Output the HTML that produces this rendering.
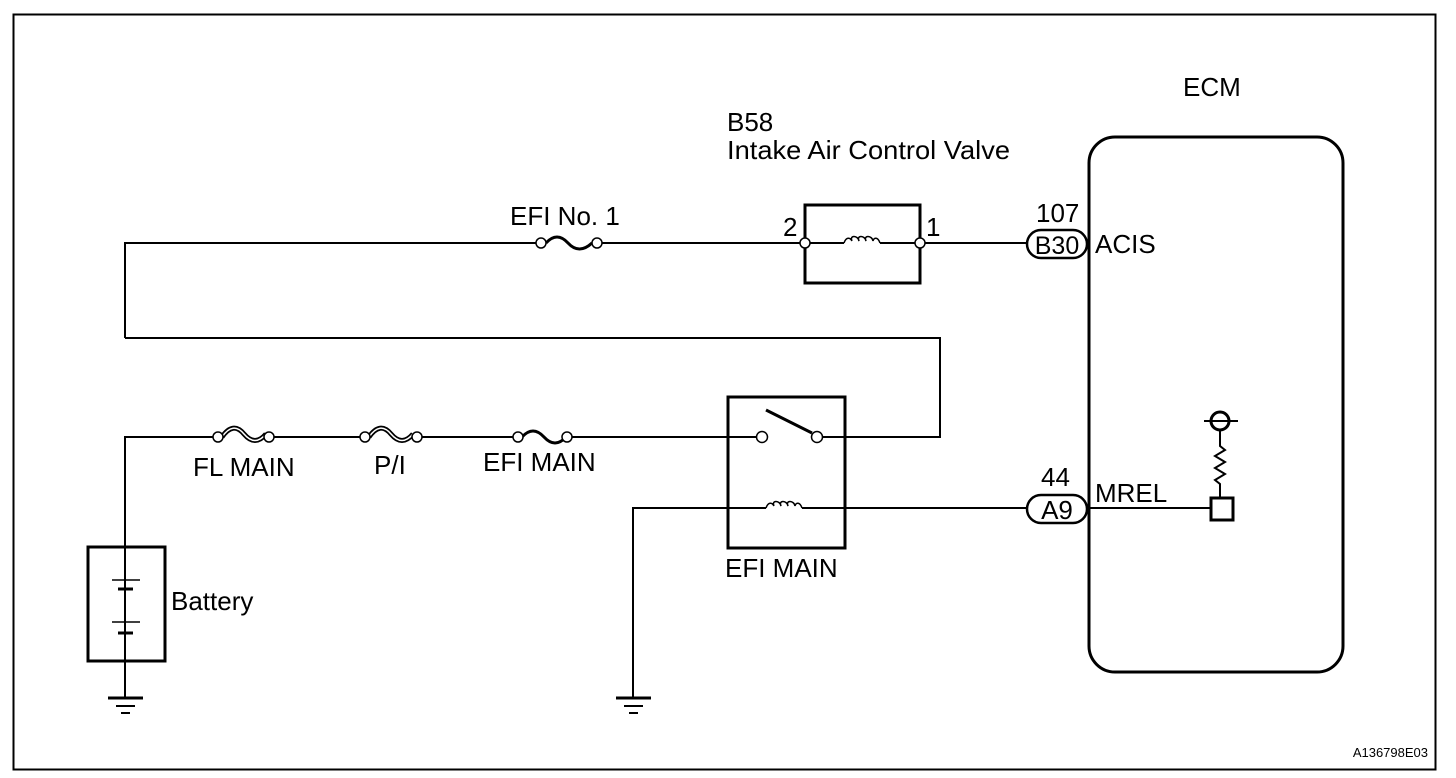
<!DOCTYPE html>
<html><head><meta charset="utf-8"><style>
html,body{margin:0;padding:0;background:#fff;}
svg{display:block;}
text{font-family:"Liberation Sans",Arial,sans-serif;fill:#000;}
</style></head><body>
<svg width="1456" height="778" viewBox="0 0 1456 778" xmlns="http://www.w3.org/2000/svg">
<rect x="13.5" y="14.5" width="1422" height="755" fill="none" stroke="#000" stroke-width="2"/>
<g fill="none" stroke="#000" stroke-width="2">
<polyline points="125,338 125,243 541,243"/>
<line x1="597" y1="243" x2="805" y2="243"/>
<path d="M546,243 q11,-12 22,0 q11,12 24,0" stroke-width="3"/>
<polyline points="125,338 940,338 940,437 823,437"/>
<rect x="805" y="205" width="115" height="78" stroke-width="3"/>
<line x1="810" y1="243" x2="844" y2="243"/>
<line x1="880" y1="243" x2="915" y2="243"/>
<path d="M844,243 c2,-6 6,-6 8,-2 c-3,-6 6,-6 7,0 c-3,-6 6,-6 7,0 c-3,-6 6,-6 7,0 c1,-4 5,-4 7,2" stroke-width="1.5"/>
<line x1="925" y1="243" x2="1027" y2="243"/>
<rect x="1027" y="230" width="60" height="28" rx="14" stroke-width="2.5"/>
<rect x="1089" y="137" width="254" height="535" rx="26" stroke-width="3"/>
<polyline points="125,698 125,437 215,437"/>
<line x1="270" y1="437" x2="362" y2="437"/>
<line x1="420" y1="437" x2="515" y2="437"/>
<line x1="570" y1="437" x2="757" y2="437"/>
<rect x="728" y="397" width="117" height="151" stroke-width="3"/>
<line x1="766" y1="410" x2="812" y2="433" stroke-width="3"/>
<polyline points="633,698 633,508 766,508"/>
<line x1="802" y1="508" x2="1027" y2="508"/>
<path d="M766,508 c2,-6 6,-6 8,-2 c-3,-6 6,-6 7,0 c-3,-6 6,-6 7,0 c-3,-6 6,-6 7,0 c1,-4 5,-4 7,2" stroke-width="1.5"/>
<rect x="1027" y="495" width="60" height="28" rx="14" stroke-width="2.5"/>
<line x1="1087" y1="508" x2="1211" y2="508"/>
<rect x="1211" y="498" width="22" height="22" stroke-width="3"/>
<circle cx="1220" cy="421" r="9" stroke-width="3"/>
<line x1="1204" y1="421" x2="1238" y2="421"/>
<polyline points="1220,430 1220,446 1225,450 1215,456 1225,462 1215,468 1225,474 1215,480 1220,484 1220,498"/>
<rect x="88" y="547" width="77" height="114" stroke-width="3"/>
<line x1="108" y1="698" x2="143" y2="698" stroke-width="3"/>
<line x1="116" y1="706" x2="135" y2="706"/>
<line x1="121" y1="713" x2="130" y2="713"/>
<line x1="616" y1="698" x2="651" y2="698" stroke-width="3"/>
<line x1="624" y1="706" x2="643" y2="706"/>
<line x1="629" y1="713" x2="638" y2="713"/>
<path d="M222,437 q11,-16 22,-3 q11,13 22,0" stroke-width="5"/>
<path d="M222,437 q11,-16 22,-3 q11,13 22,0" stroke="#fff" stroke-width="1.5"/>
<path d="M369,437 q11,-16 22,-3 q11,13 22,0" stroke-width="5"/>
<path d="M369,437 q11,-16 22,-3 q11,13 22,0" stroke="#fff" stroke-width="1.5"/>
<path d="M522,437 q11,-12 22,0 q11,12 22,0" stroke-width="3"/>
</g>
<g fill="#fff" stroke="#000" stroke-width="1.5">
<circle cx="541" cy="243" r="5"/><circle cx="597" cy="243" r="5"/>
<circle cx="805" cy="243" r="5"/><circle cx="920" cy="243" r="5"/>
<circle cx="218" cy="437" r="5"/><circle cx="269" cy="437" r="5"/>
<circle cx="365" cy="437" r="5"/><circle cx="417" cy="437" r="5"/>
<circle cx="518" cy="437" r="5"/><circle cx="567" cy="437" r="5"/>
<circle cx="762" cy="437" r="5.5"/><circle cx="817" cy="437" r="5.5"/>
</g>
<g stroke="#000">
<line x1="125" y1="547" x2="125" y2="580" stroke-width="2"/>
<line x1="112" y1="580" x2="140" y2="580" stroke-width="1.5"/>
<line x1="118" y1="589" x2="133" y2="589" stroke-width="3"/>
<line x1="125" y1="589" x2="125" y2="596" stroke-width="2"/>
<line x1="125" y1="603" x2="125" y2="610" stroke-width="2"/>
<line x1="125" y1="614" x2="125" y2="622" stroke-width="2"/>
<line x1="112" y1="622" x2="140" y2="622" stroke-width="1.5"/>
<line x1="118" y1="633" x2="133" y2="633" stroke-width="3"/>
<line x1="125" y1="633" x2="125" y2="661" stroke-width="2"/>
</g>
<g font-size="26">
<text x="1183" y="96">ECM</text>
<text x="727" y="131">B58</text>
<text x="727" y="159" textLength="283" lengthAdjust="spacingAndGlyphs">Intake Air Control Valve</text>
<text x="510" y="225">EFI No. 1</text>
<text x="783" y="236">2</text>
<text x="926" y="236">1</text>
<text x="1036" y="222">107</text>
<text x="1057" y="254" text-anchor="middle" font-size="25">B30</text>
<text x="1095" y="253">ACIS</text>
<text x="1041" y="486">44</text>
<text x="1057" y="519" text-anchor="middle">A9</text>
<text x="1095" y="502">MREL</text>
<text x="193" y="476">FL MAIN</text>
<text x="374" y="474">P/I</text>
<text x="483" y="471">EFI MAIN</text>
<text x="725" y="577">EFI MAIN</text>
<text x="171" y="610">Battery</text>
</g>
<text x="1428" y="757" font-size="13" text-anchor="end">A136798E03</text>
</svg>
</body></html>
